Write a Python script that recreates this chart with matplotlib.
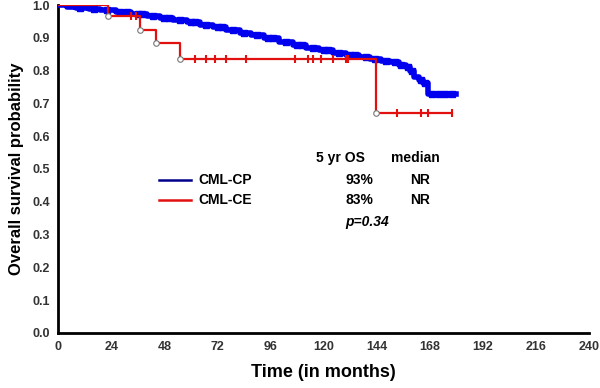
import matplotlib
matplotlib.use('Agg')
import matplotlib.pyplot as plt

plt.rcParams['font.family'] = ['Liberation Sans', 'DejaVu Sans']

# CML-CP (blue) step curve: time of step, survival after step
cp_times = [0, 4, 8, 14, 19, 26, 33, 40, 46, 52, 58, 64, 70, 76, 82, 87, 93, 100,
            106, 112, 118, 124, 130, 136, 141, 146, 150, 154, 157, 159, 161, 163, 165, 167, 180]
cp_surv = [1.0, 0.995, 0.992, 0.988, 0.985, 0.978, 0.972, 0.967, 0.962, 0.955, 0.948,
           0.94, 0.932, 0.924, 0.916, 0.908, 0.898, 0.886, 0.878, 0.87, 0.862, 0.855,
           0.848, 0.842, 0.835, 0.83, 0.826, 0.818, 0.81, 0.8, 0.782, 0.772, 0.762, 0.729, 0.729]
cp_censor = [10, 16, 22, 28, 31, 36, 38, 43, 48, 50, 55, 60, 62, 67, 72, 74, 79, 84, 90,
             95, 97, 103, 108, 110, 115, 120, 122, 127, 132, 134, 139, 143, 148, 152, 155,
             158, 160, 164, 166, 169, 172, 175, 178]

# CML-CE (red) step curve
ce_times = [0, 22.5, 37, 44, 55, 143.5, 178]
ce_surv = [1.0, 0.966, 0.924, 0.884, 0.836, 0.67, 0.67]
ce_censor = [33, 35, 62, 67, 71, 76, 85, 107, 113, 115, 119, 124, 130, 131, 153, 164, 167, 178]

series_names = ['CML-CP', 'CML-CE']
os_5yr = ['93%', '83%']
medians = ['NR', 'NR']
p_text = 'p=0.34'


def surv_at(times, surv, t):
    s = surv[0]
    for ti, si in zip(times, surv):
        if ti <= t:
            s = si
    return s


fig = plt.figure(figsize=(6, 3.88), dpi=100)
ax = fig.add_axes([0.097, 0.142, 0.885, 0.845])

ax.step(cp_times, cp_surv, where='post', color='#0000ee', lw=4, zorder=3)
ax.plot(cp_censor, [surv_at(cp_times, cp_surv, t) for t in cp_censor], ls='none',
        marker='s', ms=5, color='#0000ee', zorder=3)

ax.step(ce_times, ce_surv, where='post', color='#e31010', lw=1.6, zorder=4)
ax.plot(ce_censor, [surv_at(ce_times, ce_surv, t) for t in ce_censor], ls='none',
        marker='|', ms=6, mew=1.5, color='#e31010', zorder=4)
# event markers (open circles)
ax.plot(ce_times[1:6], ce_surv[1:6], ls='none', marker='o', ms=4, mfc='white',
        mec='#777777', mew=0.8, zorder=5)

ax.set_xlim(0, 240)
ax.set_ylim(0, 1.0)
ax.set_xticks(range(0, 241, 24))
ax.set_yticks([i / 10 for i in range(11)])
ax.set_yticklabels([f'{i / 10:.1f}' for i in range(11)])
ax.tick_params(length=0, labelsize=9, colors='#333333', pad=6)
for lab in ax.get_xticklabels() + ax.get_yticklabels():
    lab.set_fontweight('bold')
ax.spines['top'].set_visible(False)
ax.spines['right'].set_visible(False)
ax.spines['left'].set_linewidth(2)
ax.spines['bottom'].set_linewidth(2)

ax.set_xlabel('Time (in months)', fontsize=13, fontweight='bold', labelpad=8)
ax.set_ylabel('Overall survival probability', fontsize=12, fontweight='bold', labelpad=6)

# legend / summary table
fig.text(0.567, 0.593, '5 yr OS', fontsize=10, fontweight='bold', ha='center', va='center')
fig.text(0.692, 0.593, 'median', fontsize=10, fontweight='bold', ha='center', va='center')
colors = ['#00008b', '#e31010']
for i, (name, os_, med, c) in enumerate(zip(series_names, os_5yr, medians, colors)):
    y = 0.536 - i * 0.052
    fig.add_artist(plt.Line2D([0.265, 0.318], [y, y], color=c, lw=1.8))
    fig.text(0.33, y, name, fontsize=10, fontweight='bold', ha='left', va='center')
    fig.text(0.622, y, os_, fontsize=10, fontweight='bold', ha='right', va='center')
    fig.text(0.7, y, med, fontsize=10, fontweight='bold', ha='center', va='center')
fig.text(0.575, 0.428, p_text, fontsize=10, fontweight='bold', style='italic',
         ha='left', va='center')

fig.savefig('out.png', dpi=100)
